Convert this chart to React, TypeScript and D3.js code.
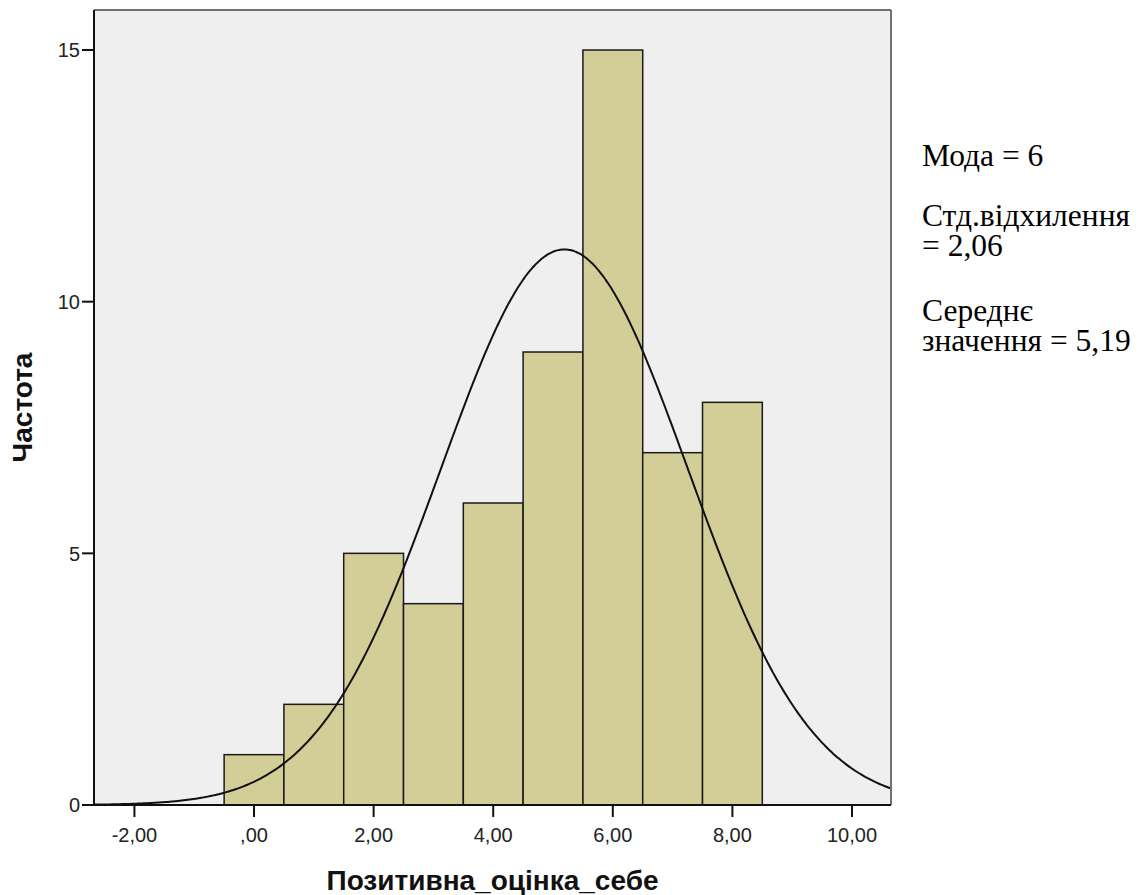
import React from "react";
import * as d3 from "d3";

const binCenters = [0, 1, 2, 3, 4, 5, 6, 7, 8];
const counts = [1, 2, 5, 4, 6, 9, 15, 7, 8];
const xTicks = [-2, 0, 2, 4, 6, 8, 10];
const yTicks = [0, 5, 10, 15];
const meanValue = 5.19;
const stdValue = 2.06;
const statLines = [
  ["Мода = 6"],
  ["Стд.відхилення", "= 2,06"],
  ["Середнє", "значення = 5,19"],
];
const xTitle = "Позитивна_оцінка_себе";
const yTitle = "Частота";

const W = 1141;
const H = 895;
const left = 94;
const right = 891;
const top = 10;
const bottom = 805;
const sans = "'Liberation Sans', Arial, sans-serif";
const serif = "'Liberation Serif', 'Times New Roman', serif";

export default function App() {
  const x = d3.scaleLinear().domain([-2.676, 10.652]).range([left, right]);
  const y = d3.scaleLinear().domain([0, 15.795]).range([bottom, top]);
  const n = d3.sum(counts);
  const binW = 1;
  const pdf = (v: number) =>
    (n * binW * Math.exp(-0.5 * ((v - meanValue) / stdValue) ** 2)) /
    (stdValue * Math.sqrt(2 * Math.PI));
  const pts = d3.range(0, 401).map((i) => {
    const v = -2.676 + ((10.652 + 2.676) * i) / 400;
    return [v, pdf(v)] as [number, number];
  });
  const line = d3
    .line<[number, number]>()
    .x((d) => x(d[0]))
    .y((d) => y(d[1]))
    .curve(d3.curveBasis);
  const fmt = (v: number) => {
    const s = v.toFixed(2).replace(".", ",");
    return s.startsWith("0,") ? s.slice(1) : s;
  };
  const lineYs = [[166], [226, 256], [321, 351]];
  return (
    <svg width={W} height={H} style={{ position: "absolute", left: 0, top: 0, background: "#fff" }}>
      <defs>
        <clipPath id="plot">
          <rect x={left} y={top} width={right - left} height={bottom - top} />
        </clipPath>
      </defs>
      <rect x={left} y={top} width={right - left} height={bottom - top} fill="#efefef" />
      <g>
        {binCenters.map((c, i) => (
          <rect
            key={i}
            x={x(c - binW / 2)}
            y={y(counts[i])}
            width={x(c + binW / 2) - x(c - binW / 2)}
            height={y(0) - y(counts[i])}
            fill="#d3ce97"
            stroke="#1a1a1a"
            strokeWidth={1.5}
          />
        ))}
      </g>
      <path d={line(pts) || ""} fill="none" stroke="#111" strokeWidth={2} clipPath="url(#plot)" />
      <line x1={left} x2={right} y1={top} y2={top} stroke="#707070" strokeWidth={2} />
      <line x1={right} x2={right} y1={top} y2={bottom} stroke="#707070" strokeWidth={2} />
      <line x1={left} x2={left} y1={top} y2={bottom + 1} stroke="#111" strokeWidth={2} />
      <line x1={left - 1} x2={right} y1={bottom} y2={bottom} stroke="#111" strokeWidth={2} />
      {yTicks.map((t) => (
        <g key={t}>
          <line x1={left - 12} x2={left} y1={y(t)} y2={y(t)} stroke="#111" strokeWidth={2} />
          <text
            x={left - 14}
            y={y(t)}
            dy="0.36em"
            textAnchor="end"
            fontFamily={sans}
            fontSize={20}
            fill="#222"
          >
            {t}
          </text>
        </g>
      ))}
      {xTicks.map((t) => (
        <g key={t}>
          <line x1={x(t)} x2={x(t)} y1={bottom} y2={bottom + 12} stroke="#111" strokeWidth={2} />
          <text x={x(t)} y={842} textAnchor="middle" fontFamily={sans} fontSize={20} fill="#222">
            {fmt(t)}
          </text>
        </g>
      ))}
      <text
        x={(left + right) / 2}
        y={890}
        textAnchor="middle"
        fontFamily={sans}
        fontWeight="bold"
        fontSize={28}
        fill="#111"
      >
        {xTitle}
      </text>
      <text
        transform={`translate(32, ${(top + bottom) / 2}) rotate(-90)`}
        textAnchor="middle"
        fontFamily={sans}
        fontWeight="bold"
        fontSize={28}
        fill="#111"
      >
        {yTitle}
      </text>
      {statLines.map((para, pi) =>
        para.map((ln, li) => (
          <text
            key={`${pi}-${li}`}
            x={922}
            y={lineYs[pi][li]}
            fontFamily={serif}
            fontSize={31.5}
            fill="#000"
          >
            {ln}
          </text>
        ))
      )}
    </svg>
  );
}
